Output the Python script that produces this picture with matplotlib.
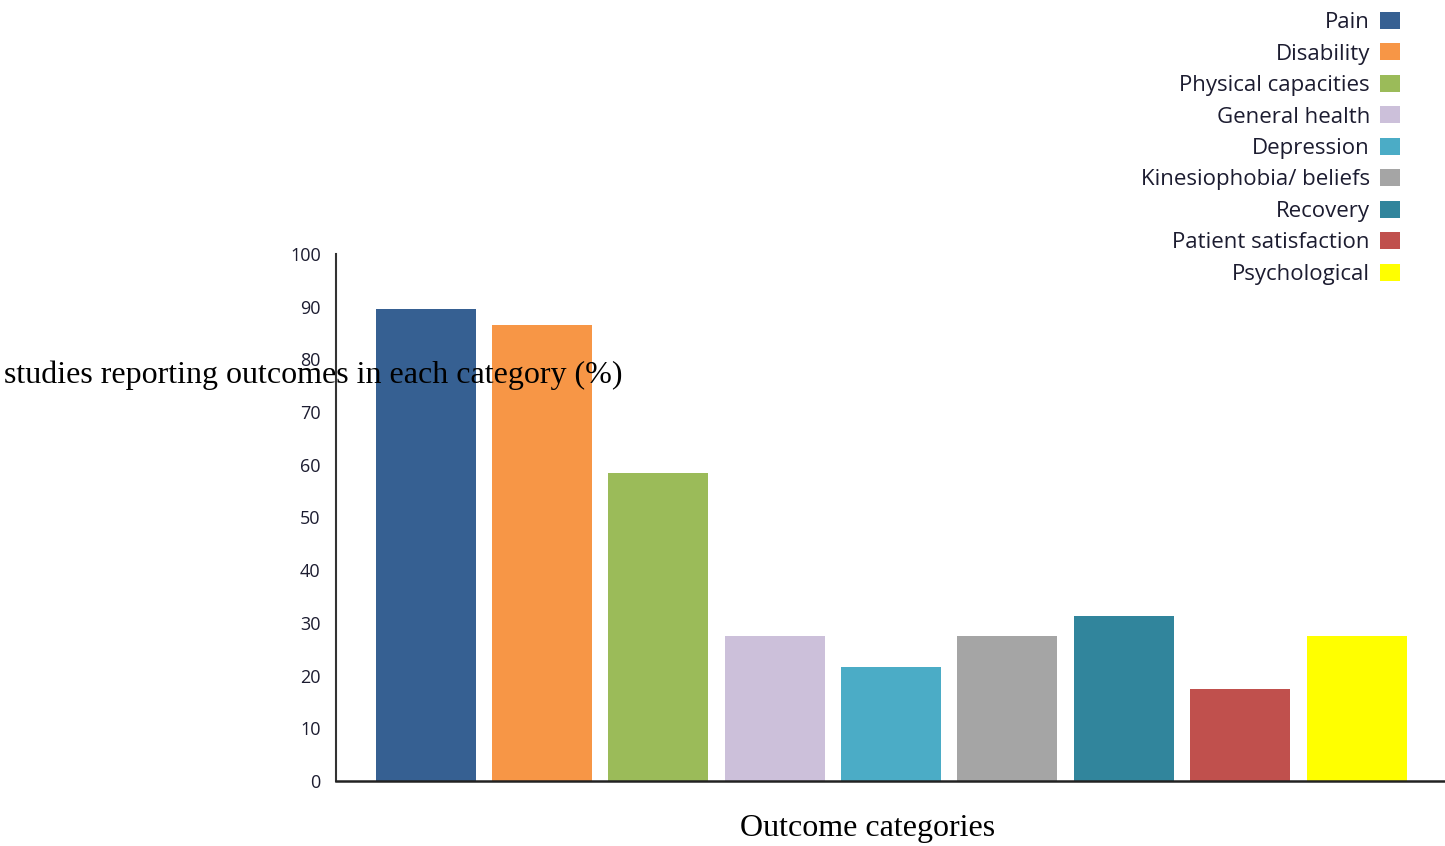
import matplotlib.pyplot as plt
from matplotlib.patches import Patch

categories = ['Pain', 'Disability', 'Physical capacities', 'General health', 'Depression',
              'Kinesiophobia/ beliefs', 'Recovery', 'Patient satisfaction', 'Psychological']
percent = [89.5, 86.6, 58.5, 27.5, 21.6, 27.5, 31.3, 17.4, 27.5]
colors = ['#366092', '#F79646', '#9BBB59', '#CCC0DA', '#4BACC6',
          '#A5A5A5', '#31859C', '#C0504D', '#FFFF00']
yticks = list(range(0, 101, 10))

fig = plt.figure(figsize=(14.45, 8.46), dpi=100)
ax = fig.add_axes([336 / 1445, 1 - 781 / 846, 1 - 336 / 1445, (781 - 254) / 846])

x = list(range(len(categories)))
ax.bar(x, percent, width=0.86, color=colors, zorder=1)

ax.set_xlim(-0.77, 8.76)
ax.set_ylim(0, 100)
ax.set_xticks([])
ax.set_yticks(yticks)
ax.set_yticklabels([str(t) for t in yticks], fontfamily='Open Sans', fontsize=13, color='#1c1c30')
ax.tick_params(axis='y', length=0, pad=11)
for s in ['top', 'right']:
    ax.spines[s].set_visible(False)
ax.spines['left'].set_color('#333333')
ax.spines['left'].set_linewidth(1.5)
ax.spines['bottom'].set_color('#222222')
ax.spines['bottom'].set_linewidth(1.8)
ax.spines['bottom'].set_zorder(3)

fig.text(313 / 1445, 1 - 375 / 846, 'studies reporting outcomes in each category (%)',
         fontfamily='Liberation Serif', fontsize=23, ha='center', va='center', zorder=5)
fig.text(868 / 1445, 1 - 828 / 846, 'Outcome categories',
         fontfamily='Liberation Serif', fontsize=23, ha='center', va='center')

handles = [Patch(facecolor=c, edgecolor='none') for c in colors]
leg = fig.legend(handles, categories, loc='upper right', bbox_to_anchor=(1400 / 1445, 1 - 12 / 846),
                 frameon=False, markerfirst=False, prop={'family': 'Open Sans', 'size': 16},
                 handlelength=0.9, handleheight=0.8, handletextpad=0.45, labelspacing=0.46,
                 borderaxespad=0, borderpad=0)
for t in leg.get_texts():
    t.set_color('#1c1c30')

fig.savefig('out.png', dpi=100)
